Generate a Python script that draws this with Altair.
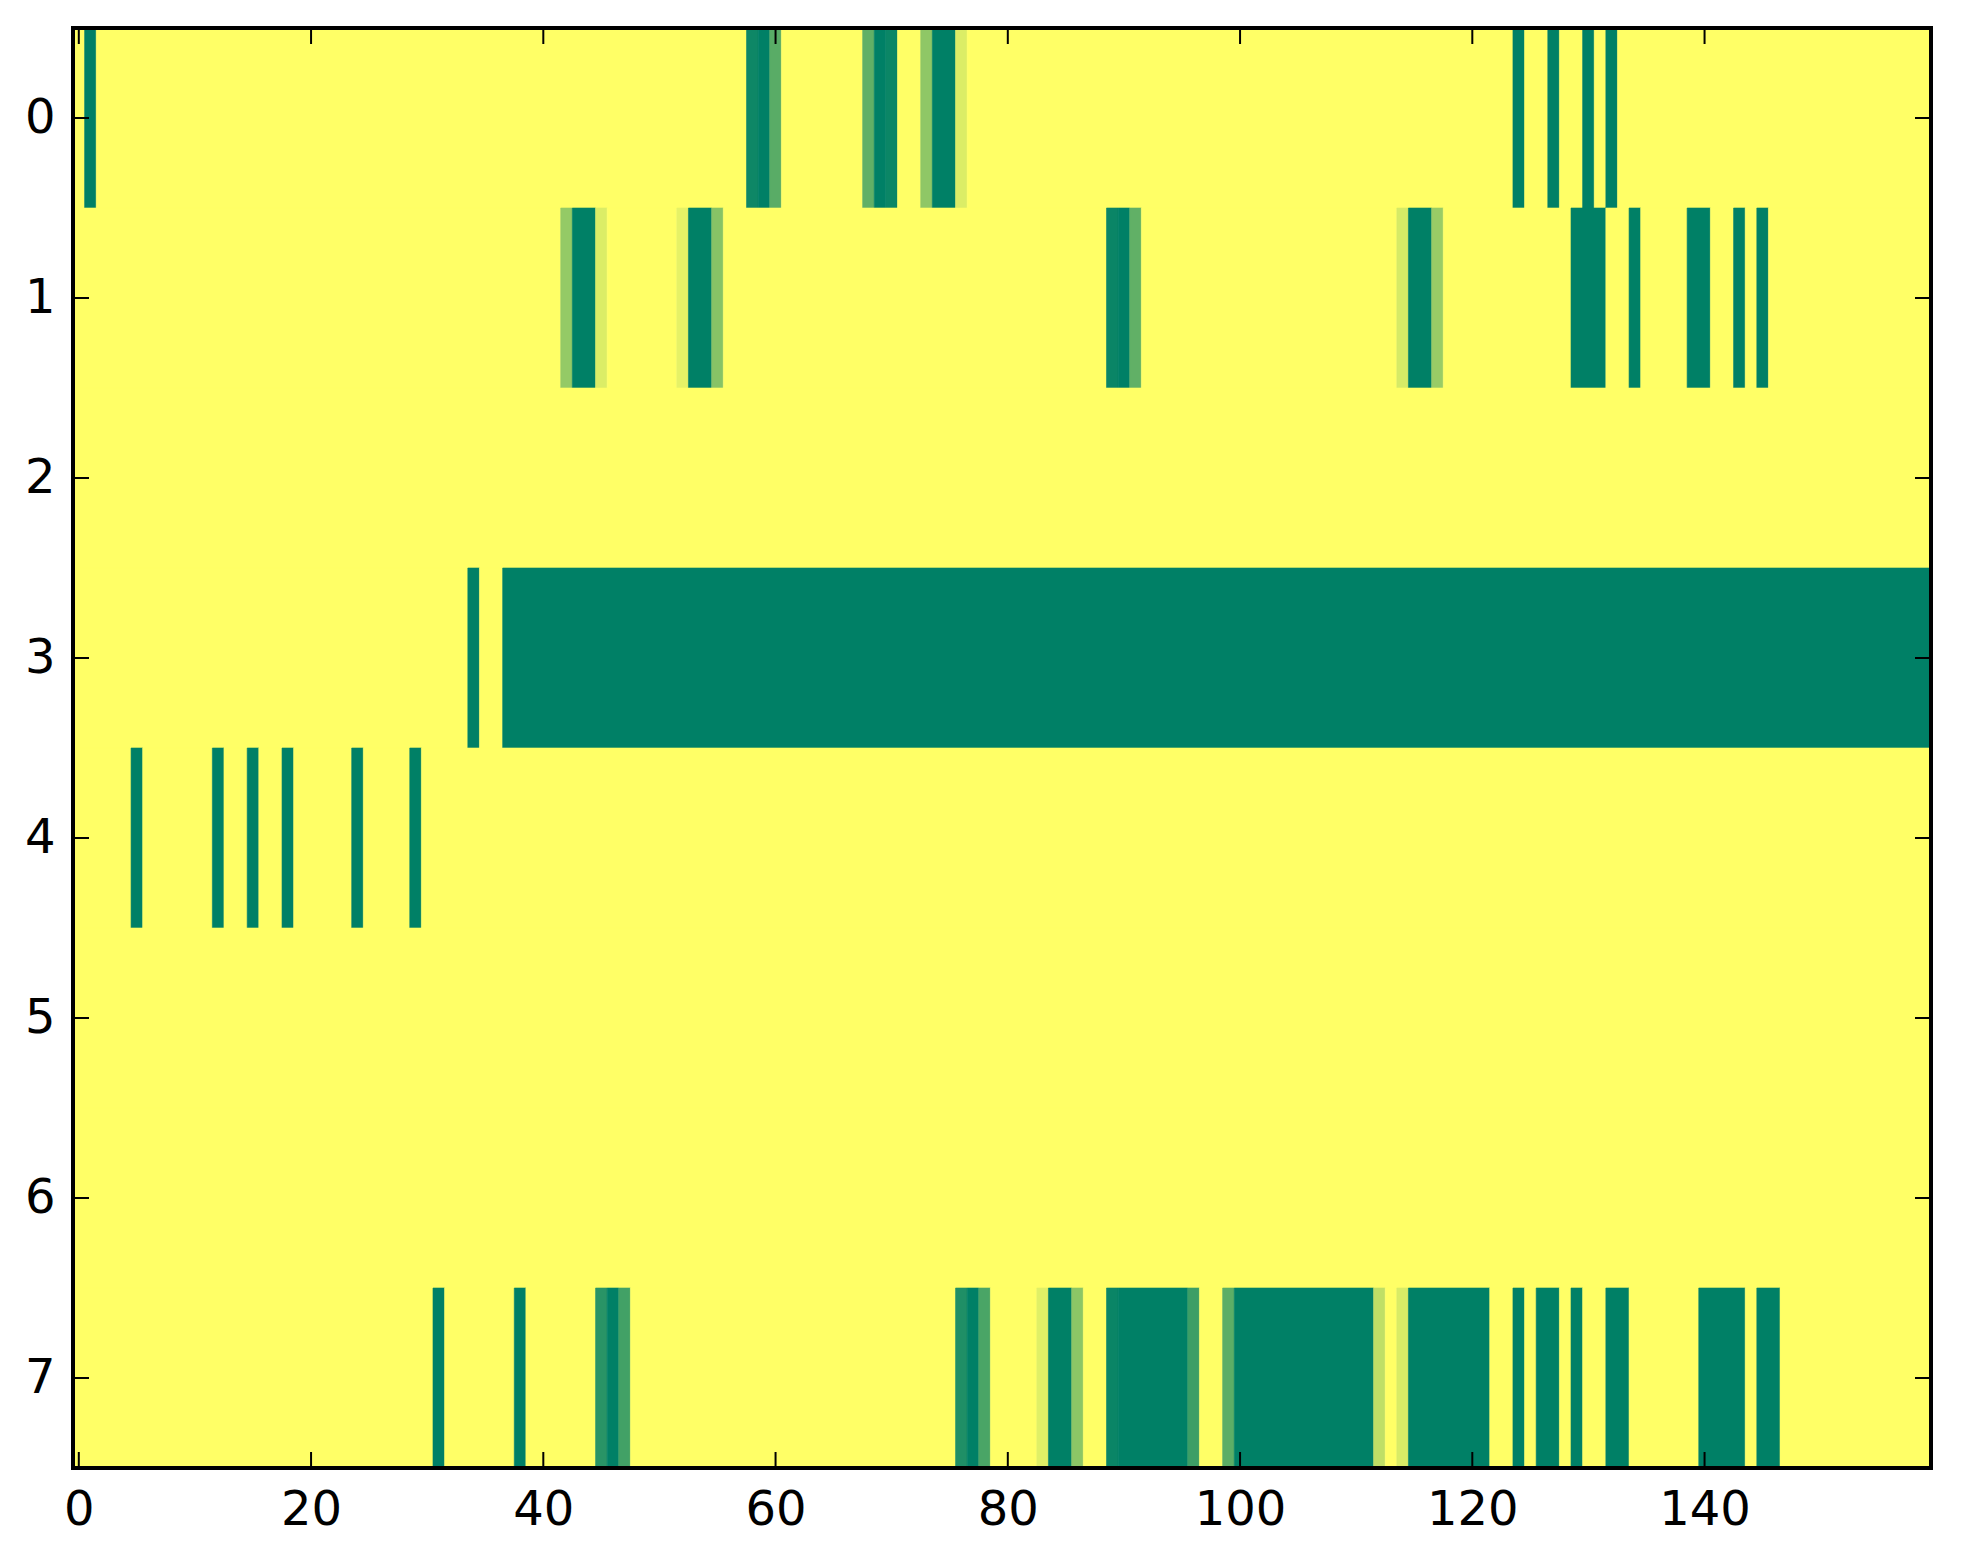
import altair as alt
import pandas as pd

N_ROWS = 8
N_COLS = 160

# runs of non-zero cells per row: (first_col, last_col, value)
row0 = [(1, 1, 1.0), (58, 58, 0.945), (59, 59, 1.0), (60, 60, 0.65),
        (68, 68, 0.62), (69, 69, 1.0), (70, 70, 0.955), (73, 73, 0.44),
        (74, 75, 1.0), (76, 76, 0.14), (124, 124, 1.0), (127, 127, 1.0),
        (130, 130, 1.0), (132, 132, 1.0)]
row1 = [(42, 42, 0.42), (43, 44, 1.0), (45, 45, 0.14), (52, 52, 0.10),
        (53, 54, 1.0), (55, 55, 0.47), (89, 89, 0.96), (90, 90, 1.0),
        (91, 91, 0.62), (114, 114, 0.16), (115, 116, 1.0), (117, 117, 0.40),
        (129, 131, 1.0), (134, 134, 1.0), (139, 140, 1.0), (143, 143, 1.0),
        (145, 145, 1.0)]
row2 = []
row3 = [(34, 34, 1.0), (37, 159, 1.0)]
row4 = [(5, 5, 1.0), (12, 12, 1.0), (15, 15, 1.0), (18, 18, 1.0),
        (24, 24, 1.0), (29, 29, 1.0)]
row5 = []
row6 = []
row7 = [(31, 31, 1.0), (38, 38, 1.0), (45, 45, 0.84), (46, 46, 1.0),
        (47, 47, 0.74), (76, 76, 0.88), (77, 77, 1.0), (78, 78, 0.71),
        (83, 83, 0.12), (84, 85, 1.0), (86, 86, 0.45), (89, 89, 0.96),
        (90, 95, 1.0), (96, 96, 0.76), (99, 99, 0.64), (100, 111, 1.0),
        (112, 112, 0.25), (114, 114, 0.15), (115, 121, 1.0), (124, 124, 1.0),
        (126, 127, 1.0), (129, 129, 1.0), (132, 133, 1.0), (140, 143, 1.0),
        (145, 146, 1.0)]
rows = [row0, row1, row2, row3, row4, row5, row6, row7]

x_ticks = [0, 20, 40, 60, 80, 100, 120, 140]
y_ticks = [0, 1, 2, 3, 4, 5, 6, 7]

W, H = 1858, 1440
TICK = 16
FONT = "DejaVu Sans"

# full grid of cell values, then merged into runs of equal value per row
records = []
for r in range(N_ROWS):
    vals = [0.0] * N_COLS
    for a, b, v in rows[r]:
        for c in range(a, b + 1):
            vals[c] = v
    start = 0
    for c in range(1, N_COLS + 1):
        if c == N_COLS or vals[c] != vals[start]:
            records.append({"row": r, "v": vals[start],
                            "x0": start - 0.5, "x1": c - 0.5,
                            "y0": r - 0.5, "y1": r + 0.5})
            start = c
df = pd.DataFrame(records)

xs = alt.Scale(domain=[-0.5, N_COLS - 0.5], nice=False, zero=False)
ys = alt.Scale(domain=[-0.5, N_ROWS - 0.5], nice=False, zero=False, reverse=True)
cs = alt.Scale(domain=[0, 1], range=["#ffff66", "#008066"], interpolate="rgb")

xaxis = alt.Axis(values=x_ticks, format="d", ticks=False, domain=False, grid=False,
                 labelFontSize=48, labelFont=FONT, labelColor="black",
                 labelPadding=18, labelFlush=False, title=None)
yaxis = alt.Axis(values=y_ticks, format="d", ticks=False, domain=False, grid=False,
                 labelFontSize=48, labelFont=FONT, labelColor="black",
                 labelPadding=18, labelFlush=False, title=None)

heat = alt.Chart(df).mark_rect(strokeWidth=0.6).encode(
    x=alt.X("x0:Q", scale=xs, axis=xaxis),
    x2="x1:Q",
    y=alt.Y("y0:Q", scale=ys, axis=yaxis),
    y2="y1:Q",
    color=alt.Color("v:Q", scale=cs, legend=None),
    stroke=alt.Stroke("v:Q", scale=cs, legend=None),
)

xt = pd.DataFrame({"t": x_ticks})
yt = pd.DataFrame({"t": y_ticks})

bottom_ticks = alt.Chart(xt).mark_rule(color="black", strokeWidth=2).encode(
    x=alt.X("t:Q", scale=xs, axis=xaxis), y=alt.value(H), y2=alt.value(H - TICK))
top_ticks = alt.Chart(xt).mark_rule(color="black", strokeWidth=2).encode(
    x=alt.X("t:Q", scale=xs, axis=xaxis), y=alt.value(0), y2=alt.value(TICK))
left_ticks = alt.Chart(yt).mark_rule(color="black", strokeWidth=2).encode(
    y=alt.Y("t:Q", scale=ys, axis=yaxis), x=alt.value(0), x2=alt.value(TICK))
right_ticks = alt.Chart(yt).mark_rule(color="black", strokeWidth=2).encode(
    y=alt.Y("t:Q", scale=ys, axis=yaxis), x=alt.value(W - TICK), x2=alt.value(W))

frame = alt.Chart(pd.DataFrame({"k": [0]})).mark_rect(
    filled=False, stroke="black", strokeWidth=4).encode(
    x=alt.value(0), x2=alt.value(W), y=alt.value(0), y2=alt.value(H))

chart = alt.layer(heat, bottom_ticks, top_ticks, left_ticks, right_ticks, frame).properties(
    width=W, height=H,
    padding={"left": 16, "top": 18, "right": 5, "bottom": 5},
    background="white",
).configure_view(stroke=None)

chart.save("out.html", embed_options={"renderer": "svg", "actions": False})
